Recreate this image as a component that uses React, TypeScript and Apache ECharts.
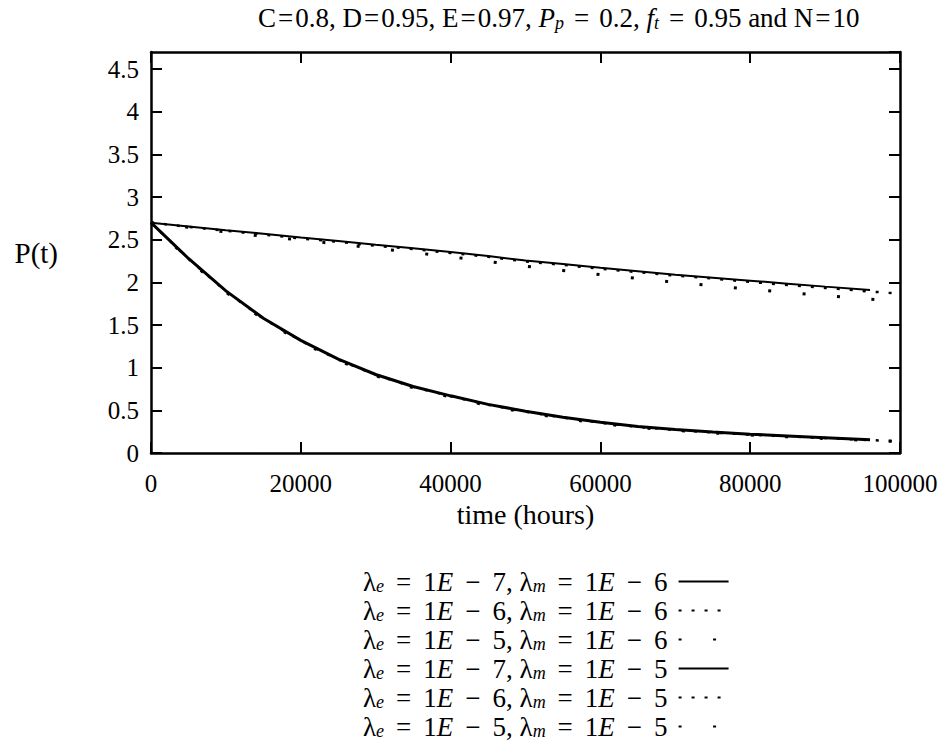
import React, { useEffect, useRef } from "react";
import * as echarts from "echarts";

// time (hours)
const hoursShort = [0, 5000, 10000, 15000, 20000, 25000, 30000, 35000, 40000, 45000, 50000, 55000, 60000, 65000, 70000, 75000, 80000, 85000, 90000, 96000];
const hoursLong = [0, 5000, 10000, 15000, 20000, 25000, 30000, 35000, 40000, 45000, 50000, 55000, 60000, 65000, 70000, 75000, 80000, 85000, 90000, 95000, 99500];

// P(t) readings
const pE7M6 = [2.7, 2.655, 2.61, 2.57, 2.525, 2.485, 2.44, 2.4, 2.355, 2.31, 2.255, 2.215, 2.17, 2.13, 2.09, 2.055, 2.02, 1.985, 1.95, 1.91];
const pE6M6 = [2.7, 2.65, 2.605, 2.56, 2.515, 2.475, 2.43, 2.39, 2.345, 2.3, 2.245, 2.205, 2.16, 2.12, 2.08, 2.045, 2.005, 1.97, 1.935, 1.9, 1.87];
const pE5M6 = [2.7, 2.645, 2.59, 2.54, 2.495, 2.45, 2.4, 2.35, 2.3, 2.245, 2.19, 2.14, 2.09, 2.045, 2.0, 1.96, 1.92, 1.88, 1.845, 1.81, 1.78];
const pE7M5 = [2.7, 2.28, 1.9, 1.58, 1.32, 1.1, 0.92, 0.78, 0.67, 0.57, 0.49, 0.42, 0.36, 0.31, 0.275, 0.245, 0.22, 0.2, 0.18, 0.155];
const pE6M5 = [2.7, 2.275, 1.895, 1.575, 1.315, 1.095, 0.915, 0.775, 0.665, 0.565, 0.485, 0.415, 0.355, 0.305, 0.27, 0.24, 0.215, 0.195, 0.175, 0.155, 0.14];
const pE5M5 = [2.7, 2.265, 1.885, 1.565, 1.305, 1.085, 0.905, 0.765, 0.655, 0.555, 0.475, 0.405, 0.345, 0.3, 0.265, 0.235, 0.21, 0.19, 0.17, 0.15, 0.135];

const lambdaE = ["7", "6", "5", "7", "6", "5"];
const lambdaM = ["6", "6", "6", "5", "5", "5"];

const FONT = "Liberation Serif";

const zip = (xs: number[], ys: number[]) => ys.map((y, i) => [xs[i], y]);

export default function App() {
  const ref = useRef<HTMLDivElement>(null);
  useEffect(() => {
    const chart = echarts.init(ref.current!, null, { renderer: "svg" });
    const names = lambdaE.map((e, i) => `le=1E-${e}, lm=1E-${lambdaM[i]}`);
    const dataSets = [
      zip(hoursShort, pE7M6),
      zip(hoursLong, pE6M6),
      zip(hoursLong, pE5M6),
      zip(hoursShort, pE7M5),
      zip(hoursLong, pE6M5),
      zip(hoursLong, pE5M5),
    ];
    const styles: any[] = [
      { type: "solid", width: 2 },
      { type: [3, 10], width: 2.5 },
      { type: [3, 31.5], width: 3 },
      { type: "solid", width: 3 },
      { type: [3, 10], width: 2.5 },
      { type: [3, 31.5], width: 3 },
    ];
    const mk = (fs: number, lh: number, opPad: number, eqPad: number) => ({
      n: { fontFamily: FONT, fontSize: fs, lineHeight: lh, color: "#000" },
      i: { fontFamily: FONT, fontSize: fs, lineHeight: lh, fontStyle: "italic", color: "#000" },
      s: { fontFamily: FONT, fontSize: Math.round(fs * 0.68), lineHeight: 14, fontStyle: "italic", verticalAlign: "bottom", color: "#000" },
      m: { fontFamily: FONT, fontSize: fs, lineHeight: lh, color: "#000", padding: [0, opPad, 0, opPad] },
      e: { fontFamily: FONT, fontSize: fs, lineHeight: lh, color: "#000", padding: [0, eqPad, 0, eqPad] },
      g: { fontFamily: FONT, fontSize: 6, lineHeight: lh, width: 6, color: "#000" },
    });
    const axisCommon = {
      type: "value" as const,
      axisLine: { show: true, onZero: false, lineStyle: { color: "#000", width: 2.5 } },
      axisTick: { show: true, inside: true, length: 11, lineStyle: { color: "#000", width: 2 } },
      splitLine: { show: false },
    };
    const option: any = {
      animation: false,
      backgroundColor: "#fff",
      title: {
        text: "{n|C}{e|=}{n|0.8, D}{e|=}{n|0.95, E}{e|=}{n|0.97, }{i|P}{s|p}{m|=}{n|0.2, }{i|f}{s|t}{m|=}{n|0.95 and N}{e|=}{n|10}",
        left: 258,
        top: 4,
        padding: 0,
        textStyle: { fontFamily: FONT, fontSize: 27, fontWeight: "normal", color: "#000", rich: mk(27, 28, 10, 2) },
      },
      grid: { left: 151, right: 44, top: 52, bottom: 289, containLabel: false },
      xAxis: [
        {
          ...axisCommon,
          position: "bottom",
          min: 0,
          max: 100000,
          interval: 20000,
          name: "time (hours)",
          nameLocation: "middle",
          nameGap: 47,
          nameTextStyle: { fontFamily: FONT, fontSize: 28, color: "#000" },
          axisLabel: { margin: 18, fontFamily: FONT, fontSize: 25, color: "#000", formatter: (v: number) => String(v) },
        },
        {
          ...axisCommon,
          position: "top",
          min: 0,
          max: 100000,
          interval: 20000,
          axisLabel: { show: false },
        },
      ],
      yAxis: [
        {
          ...axisCommon,
          position: "left",
          min: 0,
          max: 4.7,
          interval: 0.5,
          name: "P(t)",
          nameLocation: "middle",
          nameRotate: 0,
          nameGap: 93,
          nameTextStyle: { fontFamily: FONT, fontSize: 29, color: "#000" },
          axisLabel: { margin: 12, fontFamily: FONT, fontSize: 25, color: "#000", showMaxLabel: false, formatter: (v: number) => String(v) },
        },
        {
          ...axisCommon,
          position: "right",
          min: 0,
          max: 4.7,
          interval: 0.5,
          axisLabel: { show: false },
        },
      ],
      legend: {
        orient: "vertical",
        left: 363,
        top: 568,
        padding: 0,
        itemGap: 2,
        itemWidth: 50,
        itemHeight: 14,
        align: "right",
        data: names,
        itemStyle: { opacity: 0, color: "rgba(0,0,0,0)", borderWidth: 0 },
        formatter: (name: string) => {
          const i = names.indexOf(name);
          return `{n|λ}{s|e}{m|=}{n|1}{i|E}{m|−}{n|${lambdaE[i]}, λ}{s|m}{m|=}{n|1}{i|E}{m|−}{n|${lambdaM[i]}}{g| }`;
        },
        textStyle: { fontFamily: FONT, fontSize: 27, color: "#000", rich: mk(27, 27, 12, 3) },
      },
      series: dataSets.map((d, i) => ({
        name: names[i],
        type: "line",
        xAxisIndex: 0,
        yAxisIndex: 0,
        data: d,
        symbol: "none",
        color: "#000",
        lineStyle: { color: "#000", cap: "butt", ...styles[i] },
        z: i < 3 ? 3 : 2,
      })),
    };
    chart.setOption(option);
    return () => chart.dispose();
  }, []);
  return <div ref={ref} style={{ position: "fixed", left: 0, top: 0, width: 944, height: 742 }} />;
}
